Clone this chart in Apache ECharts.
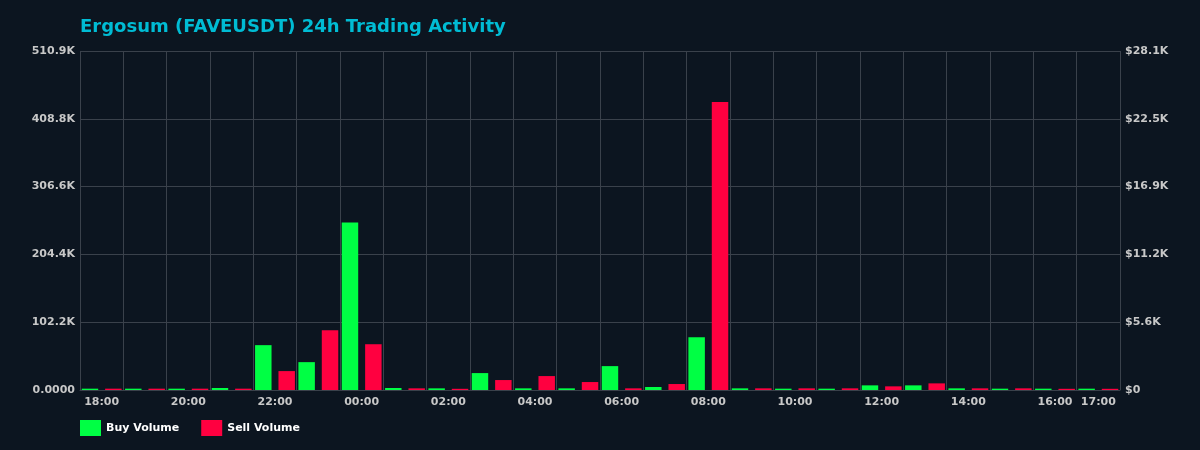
<!DOCTYPE html>
<html lang="en">

<head>
    <meta charset="UTF-8">
    <title>Ergosum 24h Trading Activity</title>
    <script src="https://cdn.jsdelivr.net/npm/echarts@6/dist/echarts.min.js"></script>
    <style>
        html, body {
            margin: 0;
            padding: 0;
            background: #0c1520;
        }

        #main {
            width: 1200px;
            height: 450px;
        }
    </style>
</head>

<body>
    <div id="main"></div>
    <script>
        // hourly buckets, last 24h
        var hours = ['18:00', '19:00', '20:00', '21:00', '22:00', '23:00', '00:00', '01:00',
            '02:00', '03:00', '04:00', '05:00', '06:00', '07:00', '08:00', '09:00',
            '10:00', '11:00', '12:00', '13:00', '14:00', '15:00', '16:00', '17:00'];

        // volumes in FAVE
        var buyVolume = [2000, 2000, 2000, 3000, 67600, 42000, 252400, 3000,
            2500, 25500, 2500, 2500, 36000, 4500, 79600, 2500,
            2000, 2000, 7000, 7000, 2500, 2000, 2000, 2000];
        var sellVolume = [2000, 2000, 2000, 2000, 28500, 90000, 69000, 2500,
            1800, 15000, 21000, 12000, 2500, 9000, 434000, 2500,
            2500, 2500, 5500, 10000, 2500, 2500, 1800, 1800];

        // axis ranges
        var volMax = 510940, volStep = 102188;
        var usdMax = 28100, usdStep = 5620;

        var labelStyle = {
            color: '#c8c8c8',
            fontSize: 11,
            fontWeight: 'bold',
            fontFamily: 'DejaVu Sans'
        };

        var myChart = echarts.init(document.getElementById('main'));

        var option = {
            backgroundColor: '#0c1520',
            animation: false,
            title: {
                text: 'Ergosum (FAVEUSDT) 24h Trading Activity',
                left: 75,
                top: 13,
                textStyle: {
                    color: '#00bcd4',
                    fontSize: 18,
                    fontWeight: 'bold',
                    fontFamily: 'DejaVu Sans'
                }
            },
            legend: {
                left: 75,
                bottom: 9,
                itemWidth: 21,
                itemHeight: 16,
                itemGap: 22,
                icon: 'rect',
                textStyle: {
                    color: '#ffffff',
                    fontSize: 11,
                    fontWeight: 'bold',
                    fontFamily: 'DejaVu Sans'
                },
                data: ['Buy Volume', 'Sell Volume']
            },
            grid: {
                left: 80,
                right: 80,
                top: 51,
                bottom: 60,
                containLabel: false
            },
            xAxis: {
                type: 'category',
                data: hours,
                z: 0,
                axisTick: { show: false },
                axisLine: { lineStyle: { color: '#3a414b' } },
                axisLabel: Object.assign({}, labelStyle, {
                    margin: 7,
                    interval: function (i) {
                        return i % 2 === 0 || i === hours.length - 1;
                    }
                }),
                splitLine: {
                    show: true,
                    interval: 0,
                    lineStyle: { color: '#3a414b', width: 1 }
                }
            },
            yAxis: [{
                type: 'value',
                min: 0,
                max: volMax,
                interval: volStep,
                axisLine: { show: false },
                axisTick: { show: false },
                axisLabel: Object.assign({}, labelStyle, {
                    margin: 5,
                    formatter: function (v) {
                        if (v === 0) return '0.0000';
                        return (v / 1000).toFixed(1) + 'K';
                    }
                }),
                splitLine: { lineStyle: { color: '#3a414b' } }
            }, {
                type: 'value',
                min: 0,
                max: usdMax,
                interval: usdStep,
                position: 'right',
                axisLine: { show: false },
                axisTick: { show: false },
                axisLabel: Object.assign({}, labelStyle, {
                    margin: 5,
                    formatter: function (v) {
                        if (v === 0) return '$0';
                        return '$' + (v / 1000).toFixed(1) + 'K';
                    }
                }),
                splitLine: { show: false }
            }],
            series: [{
                name: 'Buy Volume',
                type: 'bar',
                yAxisIndex: 0,
                z: 5,
                data: buyVolume,
                barGap: '42%',
                barCategoryGap: '8%',
                itemStyle: { color: '#00ff44' }
            }, {
                name: 'Sell Volume',
                type: 'bar',
                yAxisIndex: 0,
                z: 5,
                data: sellVolume,
                barGap: '42%',
                barCategoryGap: '8%',
                itemStyle: { color: '#ff0040' }
            }]
        };

        myChart.setOption(option);
    </script>
</body>

</html>
